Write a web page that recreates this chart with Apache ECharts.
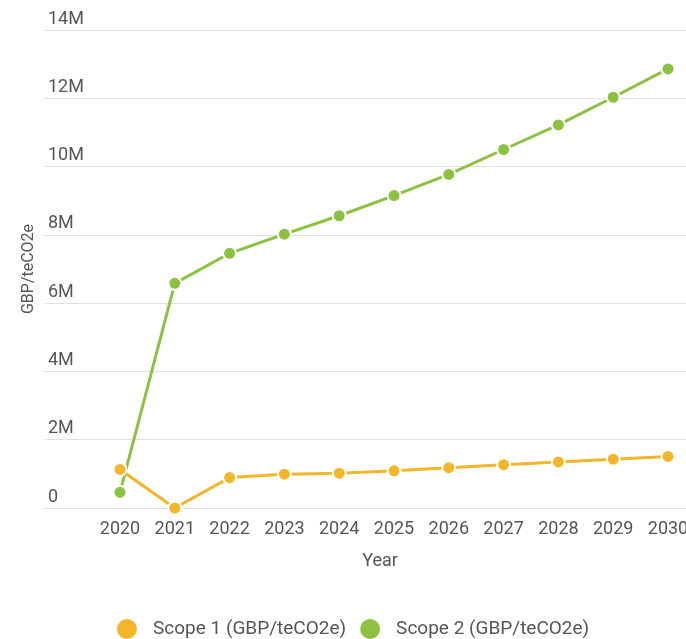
<!DOCTYPE html>
<html><head><meta charset="utf-8">
<script src="https://cdn.jsdelivr.net/npm/echarts@6/dist/echarts.min.js"></script>
<style>html,body{margin:0;padding:0;background:#fff}#c{width:686px;height:639px}</style>
</head><body><div id="c"></div>
<script>
const years = ['2020','2021','2022','2023','2024','2025','2026','2027','2028','2029','2030'];
const scope1 = [1130000, 0, 890000, 990000, 1020000, 1090000, 1180000, 1270000, 1350000, 1430000, 1510000];
const scope2 = [460000, 6580000, 7460000, 8020000, 8560000, 9150000, 9770000, 10500000, 11220000, 12030000, 12860000];
const yTickLabels = ['0','2M','4M','6M','8M','10M','12M','14M'];
const seriesNames = ['Scope 1 (GBP/teCO2e)','Scope 2 (GBP/teCO2e)'];
const xAxisTitle = 'Year';
const yAxisTitle = 'GBP/teCO2e';
const colors = ['#F2B628', '#8CC23F'];

const font = 'Roboto, sans-serif';
const chart = echarts.init(document.getElementById('c'), null, {renderer:'canvas'});
const option = {
  animation: false,
  backgroundColor: '#fff',
  grid: [
    {left: 92.6, right: -9.4, top: 30, bottom: 131, outerBoundsMode:'none', containLabel:false},
    {left: 45, right: -29, top: 30, bottom: 131, outerBoundsMode:'none', containLabel:false}
  ],
  xAxis: [
    {type:'category', gridIndex:0, data: years, boundaryGap: true,
     axisLine:{show:false}, axisTick:{show:false}, splitLine:{show:false},
     axisLabel:{color:'#555', fontSize:18, fontFamily:font, margin:12, interval:0}},
    {type:'value', gridIndex:1, min:0, max:1,
     axisLine:{show:false}, axisTick:{show:false}, axisLabel:{show:false}, splitLine:{show:false},
     name: xAxisTitle, nameLocation:'middle', nameGap:44,
     nameTextStyle:{color:'#555', fontSize:18, fontFamily:font}}
  ],
  yAxis: [
    {type:'value', gridIndex:0, min:0, max:14000000, interval:2000000, show:false},
    {type:'value', gridIndex:1, min:0, max:14000000, interval:2000000,
     axisLine:{show:false}, axisTick:{show:false},
     axisLabel:{inside:true, verticalAlign:'bottom', margin:3, color:'#555', fontSize:18, fontFamily:font,
       padding:[0,0,2,0],
       formatter: v => yTickLabels[Math.round(v/2000000)]},
     splitLine:{lineStyle:{color:'#e0e0e0', width:1}},
     name: yAxisTitle, nameLocation:'middle', nameGap:8,
     nameTextStyle:{color:'#555', fontSize:16, fontFamily:font}}
  ],
  legend: {
    left: 110, top: 612, padding:5, icon:'circle', itemWidth:22, itemHeight:22, itemGap:12,
    textStyle:{color:'#555', fontSize:19, fontFamily:font, padding:[0,0,0,10]},
    data: seriesNames
  },
  series: [
    {name: seriesNames[0], type:'line', xAxisIndex:0, yAxisIndex:0, data: scope1,
     color: colors[0], lineStyle:{width:3, color:colors[0]}, symbol:'circle', symbolSize:13,
     itemStyle:{color:colors[0], borderColor:'#fff', borderWidth:2}},
    {name: seriesNames[1], type:'line', xAxisIndex:0, yAxisIndex:0, data: scope2,
     color: colors[1], lineStyle:{width:3, color:colors[1]}, symbol:'circle', symbolSize:13,
     itemStyle:{color:colors[1], borderColor:'#fff', borderWidth:2}}
  ]
};
chart.setOption(option);
</script></body></html>
